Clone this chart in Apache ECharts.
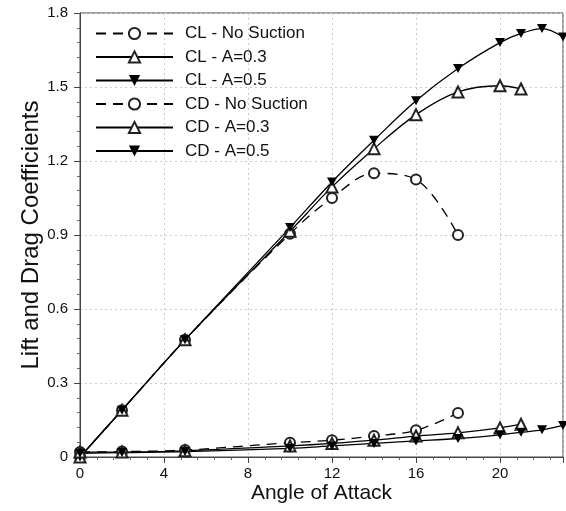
<!DOCTYPE html>
<html>
<head>
<meta charset="utf-8">
<script src="https://cdn.jsdelivr.net/npm/echarts@6/dist/echarts.min.js"></script>
<style>
html,body{margin:0;padding:0;background:#fff;}
#chart{width:566px;height:511px;}
</style>
</head>
<body>
<div id="chart"></div>
<script>
// ---- Data ----
const seriesNames = ['CL - No Suction', 'CL - A=0.3', 'CL - A=0.5', 'CD - No Suction', 'CD - A=0.3', 'CD - A=0.5'];

const anglesNoSuction = [0, 2, 5, 10, 12, 14, 16, 18];
const anglesA03 = [0, 2, 5, 10, 12, 14, 16, 18, 20, 21];
const anglesA05 = [0, 2, 5, 10, 12, 14, 16, 18, 20, 21, 22, 23];

const clNoSuction = [0, 0.19, 0.475, 0.905, 1.05, 1.15, 1.125, 0.9];
const clA03 = [0, 0.19, 0.475, 0.915, 1.095, 1.25, 1.388, 1.48, 1.505, 1.492];
const clA05 = [0, 0.19, 0.475, 0.93, 1.115, 1.284, 1.444, 1.575, 1.68, 1.717, 1.737, 1.703];

const cdNoSuction = [0.02, 0.022, 0.028, 0.058, 0.068, 0.085, 0.108, 0.178];
const cdA03 = [0.02, 0.02, 0.025, 0.045, 0.055, 0.068, 0.085, 0.098, 0.118, 0.133];
const cdA05 = [0.015, 0.018, 0.022, 0.035, 0.045, 0.055, 0.065, 0.075, 0.09, 0.1, 0.11, 0.128];

const xTicks = [0, 4, 8, 12, 16, 20];
const yTicks = ['0', '0.3', '0.6', '0.9', '1.2', '1.5', '1.8'];

// ---- Build ----
function pairs(xs, ys) { return xs.map((x, i) => [x, ys[i]]); }
const DOWN_TRI = 'path://M0,0 L10,0 L5,9 Z';
const FONT = 'Liberation Sans, Arial, Helvetica, sans-serif';

function mk(name, data, kind) {
  const base = {
    name: name,
    type: 'line',
    data: data,
    smooth: 0.35,
    color: '#000',
    lineStyle: { color: '#000', width: 1.3, type: 'solid' },
    symbolSize: 10,
    z: 3
  };
  if (kind === 'circle') {
    base.symbol = 'emptyCircle';
    base.symbolSize = 10;
    base.lineStyle.type = [10, 7];
    base.itemStyle = { color: '#222', borderWidth: 1 };
  } else if (kind === 'tri') {
    base.symbol = 'emptyTriangle';
    base.symbolSize = 11;
    base.itemStyle = { color: '#222', borderWidth: 1 };
  } else {
    base.symbol = DOWN_TRI;
    base.symbolSize = [10, 9];
    base.itemStyle = { color: '#000' };
  }
  return base;
}

const chart = echarts.init(document.getElementById('chart'), null, { renderer: 'canvas' });
chart.setOption({
  animation: false,
  backgroundColor: '#fff',
  textStyle: { fontFamily: FONT },
  grid: { left: 80, right: 3, top: 13, bottom: 54, show: true, borderColor: '#444', borderWidth: 1, backgroundColor: 'transparent' },
  legend: {
    orient: 'vertical',
    left: 95,
    top: 25,
    padding: 0,
    itemWidth: 77,
    itemHeight: 14,
    itemGap: 6.5,
    textStyle: { fontSize: 17, color: '#111', fontFamily: FONT, padding: [0, 0, 0, 7] },
    data: seriesNames
  },
  xAxis: {
    type: 'value',
    min: 0, max: 23, interval: 4,
    name: 'Angle of Attack',
    nameLocation: 'middle',
    nameGap: 26,
    nameMoveOverlap: false,
    nameTextStyle: { fontSize: 21, color: '#111', fontFamily: FONT },
    axisLine: { show: true, lineStyle: { color: '#444', width: 1 } },
    axisTick: { show: true, inside: false, length: 6, lineStyle: { color: '#444' } },
    minorTick: { show: true, splitNumber: 5, length: 3, lineStyle: { color: '#666' } },
    axisLabel: { fontSize: 15, color: '#111', margin: 9, fontFamily: FONT,
      formatter: v => (xTicks.indexOf(v) >= 0 ? String(v) : '') },
    splitLine: { show: true, lineStyle: { color: '#ccc', type: [2, 3], width: 1 } }
  },
  yAxis: {
    type: 'value',
    min: 0, max: 1.8, interval: 0.3,
    name: 'Lift and Drag Coefficients',
    nameLocation: 'middle',
    nameGap: 37,
    nameRotate: 90,
    nameMoveOverlap: false,
    nameTextStyle: { fontSize: 24, color: '#111', fontFamily: FONT },
    axisLine: { show: true, lineStyle: { color: '#444', width: 1 } },
    axisTick: { show: true, inside: false, length: 6, lineStyle: { color: '#444' } },
    minorTick: { show: true, splitNumber: 5, length: 3, lineStyle: { color: '#666' } },
    axisLabel: { fontSize: 15, color: '#111', margin: 12, fontFamily: FONT,
      formatter: (v) => yTicks[Math.round(v / 0.3)] },
    splitLine: { show: true, lineStyle: { color: '#ccc', type: [2, 3], width: 1 } }
  },
  series: [
    mk(seriesNames[0], pairs(anglesNoSuction, clNoSuction), 'circle'),
    mk(seriesNames[1], pairs(anglesA03, clA03), 'tri'),
    mk(seriesNames[2], pairs(anglesA05, clA05), 'down'),
    mk(seriesNames[3], pairs(anglesNoSuction, cdNoSuction), 'circle'),
    mk(seriesNames[4], pairs(anglesA03, cdA03), 'tri'),
    mk(seriesNames[5], pairs(anglesA05, cdA05), 'down')
  ]
});
</script>
</body>
</html>
